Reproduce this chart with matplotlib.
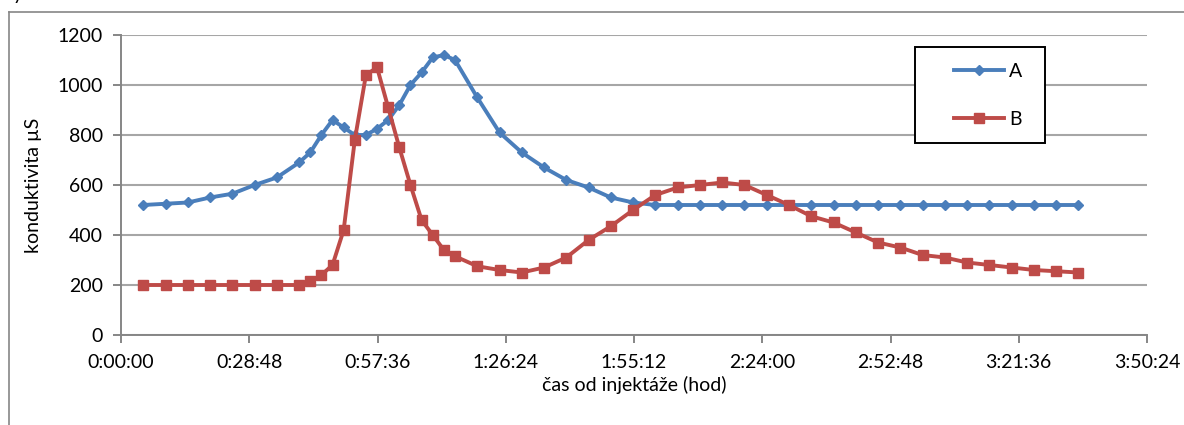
import matplotlib
matplotlib.use("Agg")
import matplotlib.pyplot as plt
import matplotlib.ticker as ticker
from matplotlib.lines import Line2D
from matplotlib.patches import Rectangle

plt.rcParams['font.family'] = ['Lato', 'DejaVu Sans']

# measurement times in minutes after injection
minutes = [5, 10, 15, 20, 25, 30, 35, 40, 42.5, 45, 47.5, 50, 52.5, 55, 57.5,
           60, 62.5, 65, 67.5, 70, 72.5, 75, 80, 85, 90, 95, 100, 105, 110,
           115, 120, 125, 130, 135, 140, 145, 150, 155, 160, 165, 170, 175,
           180, 185, 190, 195, 200, 205, 210, 215]

series_a = [520, 525, 530, 550, 565, 600, 630, 690, 730, 800, 860, 830, 800,
            800, 825, 860, 920, 1000, 1050, 1110, 1120, 1100, 950, 810, 730,
            670, 620, 590, 550, 530, 520, 520, 520, 520, 520, 520, 520, 520,
            520, 520, 520, 520, 520, 520, 520, 520, 520, 520, 520, 520]

series_b = [200, 200, 200, 200, 200, 200, 200, 200, 215, 240, 280, 420, 780,
            1040, 1070, 910, 750, 600, 460, 400, 340, 315, 275, 260, 250,
            270, 310, 380, 435, 500, 560, 590, 600, 610, 600, 560, 520, 475,
            450, 410, 370, 350, 320, 310, 290, 280, 270, 260, 255, 250]

labels = ['A', 'B']

seconds = [m * 60 for m in minutes]

W, H = 1184, 425
fig = plt.figure(figsize=(W / 100, H / 100), dpi=100)
ax = fig.add_axes([121 / W, (H - 335) / H, 1026 / W, 300 / H])

blue = '#4a7ebb'
red = '#be4b48'
grey = '#868686'

ax.plot(seconds, series_a, color=blue, lw=2.8, marker='D', markersize=5.5,
        label=labels[0], zorder=3)
ax.plot(seconds, series_b, color=red, lw=2.8, marker='s', markersize=6.5,
        label=labels[1], zorder=3)

ax.set_xlim(0, 13824)
ax.set_ylim(0, 1200)
ax.xaxis.set_major_locator(ticker.MultipleLocator(1728))
ax.yaxis.set_major_locator(ticker.MultipleLocator(200))


def hms(v, pos):
    v = int(round(v))
    return '{}:{:02d}:{:02d}'.format(v // 3600, (v % 3600) // 60, v % 60)


ax.xaxis.set_major_formatter(ticker.FuncFormatter(hms))

ax.grid(axis='y', color='#a6a6a6', lw=1.5)
ax.set_axisbelow(True)
for s in ['top', 'right']:
    ax.spines[s].set_visible(False)
for s in ['left', 'bottom']:
    ax.spines[s].set_color(grey)
    ax.spines[s].set_linewidth(1.4)
ax.tick_params(axis='both', direction='out', length=6, width=1.4, color=grey,
               labelsize=14, labelcolor='black')
ax.tick_params(axis='x', pad=8)
ax.tick_params(axis='y', pad=7)

ax.set_xlabel('čas od injektáže (hod)', fontsize=14, labelpad=3)
ax.set_ylabel('konduktivita µS', fontsize=14, labelpad=11)

# outer chart border (runs off the image right and bottom)
fig.add_artist(Line2D([9 / W, 1.0], [1 - 12 / H, 1 - 12 / H],
                      transform=fig.transFigure, color=grey, lw=1.2))
fig.add_artist(Line2D([9 / W, 9 / W], [0, 1 - 12 / H],
                      transform=fig.transFigure, color=grey, lw=1.2))

# cut-off caption descender at the very top
fig.text(13 / W, 1.0, 'y', fontsize=14, va='baseline', ha='left')

# legend box
box = Rectangle((915 / W, 1 - 143 / H), 130 / W, 96 / H,
                transform=fig.transFigure, facecolor='white',
                edgecolor='black', lw=1.4, zorder=5, clip_on=False)
ax.add_patch(box)
leg = ax.legend(loc='center left', bbox_to_anchor=(944 / W, 1 - 95.5 / H),
                bbox_transform=fig.transFigure, frameon=False, borderpad=0,
                handlelength=2.6, handletextpad=0.25, labelspacing=1.6,
                fontsize=14)
leg.set_zorder(6)

fig.savefig('out.png', dpi=100)
